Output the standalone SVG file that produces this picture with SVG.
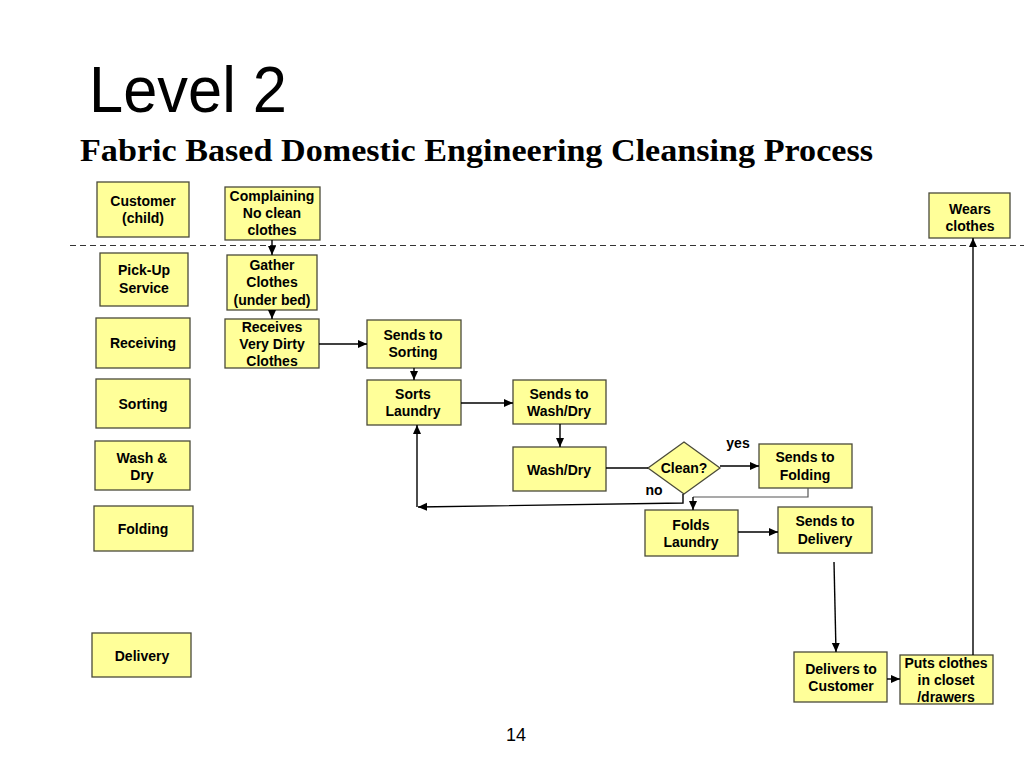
<svg xmlns="http://www.w3.org/2000/svg" width="1024" height="768" viewBox="0 0 1024 768">
<defs>
<marker id="ah" markerWidth="10" markerHeight="10" refX="9" refY="5" orient="auto" markerUnits="userSpaceOnUse">
<path d="M0,1 L9,5 L0,9 Z" fill="#000"/>
</marker>
<style>
.box{fill:#FFFF99;stroke:#4a4a3a;stroke-width:1.3}
.t{font-family:"Liberation Sans",Arial,sans-serif;font-weight:bold;font-size:14px;fill:#000;text-anchor:middle}
.c{fill:none;stroke:#000;stroke-width:1.4}
.cg{fill:none;stroke:#555;stroke-width:1.2}
</style>
</defs>
<rect width="1024" height="768" fill="#fff"/>
<text x="89" y="112" font-family="'Liberation Sans',Arial,sans-serif" font-size="64" textLength="198" lengthAdjust="spacingAndGlyphs" fill="#000">Level 2</text>
<text x="80" y="161" font-family="'Liberation Serif','Times New Roman',serif" font-weight="bold" font-size="32" textLength="793" lengthAdjust="spacingAndGlyphs" fill="#000">Fabric Based Domestic Engineering Cleansing Process</text>
<line x1="70" y1="245.5" x2="1024" y2="245.5" stroke="#333" stroke-width="1.2" stroke-dasharray="6,4"/>
<text x="516" y="741" font-family="'Liberation Sans',Arial,sans-serif" font-size="18" text-anchor="middle" fill="#000">14</text>

<g id="lane-customer"><rect class="box" x="97" y="182" width="92" height="55"/><text class="t" x="143" y="206">Customer</text><text class="t" x="143" y="223">(child)</text></g>
<g id="lane-pickup"><rect class="box" x="100" y="253" width="88" height="53"/><text class="t" x="144" y="275">Pick-Up</text><text class="t" x="144" y="293">Service</text></g>
<g id="lane-receiving"><rect class="box" x="96" y="318" width="94" height="50"/><text class="t" x="143" y="348">Receiving</text></g>
<g id="lane-sorting"><rect class="box" x="96" y="379" width="94" height="49"/><text class="t" x="143" y="409">Sorting</text></g>
<g id="lane-wash"><rect class="box" x="95" y="441" width="95" height="49"/><text class="t" x="142" y="463">Wash &amp;</text><text class="t" x="142" y="480">Dry</text></g>
<g id="lane-folding"><rect class="box" x="94" y="506" width="99" height="45"/><text class="t" x="143" y="534">Folding</text></g>
<g id="lane-delivery"><rect class="box" x="92" y="633" width="99" height="44"/><text class="t" x="142" y="661">Delivery</text></g>

<g id="complaining"><rect class="box" x="225" y="187" width="95" height="53"/><text class="t" x="272" y="201">Complaining</text><text class="t" x="272" y="218">No clean</text><text class="t" x="272" y="235">clothes</text></g>
<g id="gather"><rect class="box" x="227" y="255" width="90" height="55"/><text class="t" x="272" y="270">Gather</text><text class="t" x="272" y="287">Clothes</text><text class="t" x="272" y="305">(under bed)</text></g>
<g id="receives"><rect class="box" x="225" y="319" width="94" height="49"/><text class="t" x="272" y="332">Receives</text><text class="t" x="272" y="349">Very Dirty</text><text class="t" x="272" y="366">Clothes</text></g>
<g id="sends-sorting"><rect class="box" x="367" y="320" width="94" height="48"/><text class="t" x="413" y="340">Sends to</text><text class="t" x="413" y="357">Sorting</text></g>
<g id="sorts"><rect class="box" x="367" y="380" width="94" height="45"/><text class="t" x="413" y="399">Sorts</text><text class="t" x="413" y="416">Laundry</text></g>
<g id="sends-wash"><rect class="box" x="513" y="380" width="93" height="44"/><text class="t" x="559" y="399">Sends to</text><text class="t" x="559" y="416">Wash/Dry</text></g>
<g id="washdry"><rect class="box" x="513" y="447" width="93" height="44"/><text class="t" x="559" y="475">Wash/Dry</text></g>
<g id="clean"><polygon class="box" points="684,442 720,468 684,494 648,468"/><text class="t" x="684" y="473">Clean?</text></g>
<g id="sends-folding"><rect class="box" x="759" y="444" width="93" height="44"/><text class="t" x="805" y="462">Sends to</text><text class="t" x="805" y="480">Folding</text></g>
<g id="folds"><rect class="box" x="645" y="510" width="93" height="46"/><text class="t" x="691" y="530">Folds</text><text class="t" x="691" y="547">Laundry</text></g>
<g id="sends-delivery"><rect class="box" x="778" y="507" width="94" height="46"/><text class="t" x="825" y="526">Sends to</text><text class="t" x="825" y="544">Delivery</text></g>
<g id="delivers"><rect class="box" x="794" y="652" width="93" height="50"/><text class="t" x="841" y="674">Delivers to</text><text class="t" x="841" y="691">Customer</text></g>
<g id="puts"><rect class="box" x="900" y="655" width="93" height="49"/><text class="t" x="946" y="668">Puts clothes</text><text class="t" x="946" y="685">in closet</text><text class="t" x="946" y="702">/drawers</text></g>
<g id="wears"><rect class="box" x="929" y="193" width="81" height="45"/><text class="t" x="970" y="214">Wears</text><text class="t" x="970" y="231">clothes</text></g>

<g id="connectors">
<line class="c" x1="272" y1="240" x2="272" y2="255" marker-end="url(#ah)"/>
<line class="c" x1="272" y1="310" x2="272" y2="319" marker-end="url(#ah)"/>
<line class="c" x1="319" y1="344" x2="367" y2="344" marker-end="url(#ah)"/>
<line class="c" x1="414" y1="368" x2="414" y2="380" marker-end="url(#ah)"/>
<line class="c" x1="461" y1="403" x2="513" y2="403" marker-end="url(#ah)"/>
<line class="c" x1="560" y1="424" x2="560" y2="447" marker-end="url(#ah)"/>
<line class="c" x1="606" y1="468" x2="648" y2="468"/>
<line class="c" x1="720" y1="466" x2="759" y2="466" marker-end="url(#ah)"/>
<polyline class="c" points="683,494 683,503 418,507" marker-end="url(#ah)"/>
<line class="c" x1="417" y1="507" x2="417" y2="425" marker-end="url(#ah)"/>
<polyline class="cg" points="808,488 808,497 693,497"/>
<line class="c" x1="693" y1="497" x2="693" y2="510" marker-end="url(#ah)"/>
<line class="c" x1="738" y1="532" x2="778" y2="532" marker-end="url(#ah)"/>
<line class="c" x1="834" y1="562" x2="836" y2="652" marker-end="url(#ah)"/>
<line class="c" x1="887" y1="679" x2="900" y2="679" marker-end="url(#ah)"/>
<line class="c" x1="973" y1="655" x2="973" y2="238" marker-end="url(#ah)"/>
<text class="t" x="738" y="448">yes</text>
<text class="t" x="654" y="495">no</text>
</g>
</svg>
